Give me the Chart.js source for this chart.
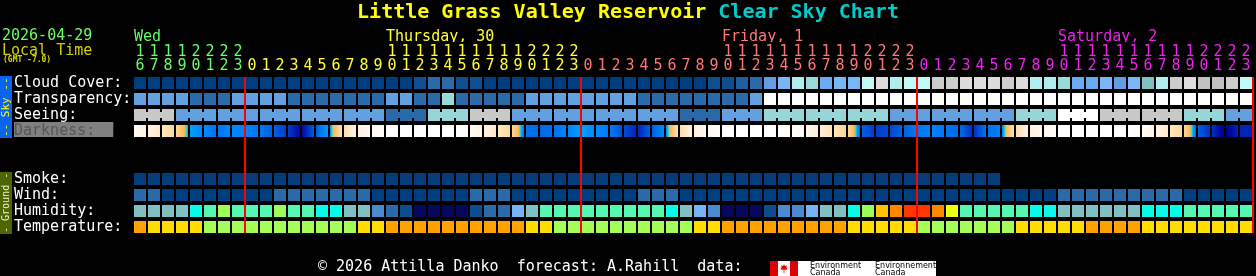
<!DOCTYPE html>
<html>
<head>
<meta charset="utf-8">
<title>Little Grass Valley Reservoir Clear Sky Chart</title>
<script src="https://cdn.jsdelivr.net/npm/chart.js"></script>
<style>
  body { margin: 0; background: #000; width: 1256px; height: 276px; overflow: hidden; position: relative; font-family: 'DejaVu Sans Mono', monospace; }
  #chart { position: absolute; left: 0; top: 0; }
  .txt { position: absolute; white-space: pre; }
  .side { position: absolute; left: 0; width: 12px; display: flex; align-items: center; justify-content: center;
          writing-mode: vertical-rl; transform: rotate(180deg); white-space: pre; line-height: 12px; }
  #ec { position: absolute; left: 770px; top: 261px; width: 166px; height: 15px; background: #fff; overflow: hidden; }
  #ec div { position: absolute; }
  #ec .t { font-family: 'DejaVu Sans', sans-serif; font-size: 8px; line-height: 7px; color: #000; top: 1px; }
</style>
</head>
<body>
<canvas id="chart" width="1256" height="276"></canvas>

<div class="txt" style="left:0;width:1256px;text-align:center;top:1px;font-size:20px;line-height:20px;font-weight:bold"><span style="color:#ffff00">Little Grass Valley Reservoir</span> <span style="color:#00cccc">Clear Sky Chart</span></div>
<div class="txt" style="left:2px;top:28px;font-size:15px;line-height:15px;color:#66ff66">2026-04-29</div>
<div class="txt" style="left:2px;top:43px;font-size:15px;line-height:15px;color:#d0d000">Local Time</div>
<div class="txt" style="left:3px;top:56px;font-size:8px;line-height:8px;font-weight:bold;color:#d8d800">(GMT -7.0)</div>

<div class="side" style="top:76px;height:62px;background:#0a64f0;color:#ffff00;font-size:11px">-- Sky --</div>
<div class="side" style="top:172px;height:62px;background:#4d6600;color:#f0f0d0;font-size:10px">- Ground -</div>

<div class="txt" style="left:318px;top:259px;font-size:15px;line-height:15px;color:#ffffff">© 2026 Attilla Danko  forecast: A.Rahill  data:</div>
<div id="ec">
  <div style="left:0;top:0;width:8px;height:15px;background:#e00000"></div>
  <div style="left:20px;top:0;width:8px;height:15px;background:#e00000"></div>
  <div style="left:10px;top:3px;width:8px;height:9px;background:#e00000;clip-path:polygon(50% 0,62% 25%,85% 15%,78% 45%,100% 40%,80% 65%,55% 62%,55% 100%,45% 100%,45% 62%,20% 65%,0 40%,22% 45%,15% 15%,38% 25%)"></div>
  <div class="t" style="left:40px">Environment<br>Canada</div>
  <div class="t" style="left:105px">Environnement<br>Canada</div>
</div>

<script>
// hour of each forecast column (local time)
const hours = [16,17,18,19,20,21,22,23,
  0,1,2,3,4,5,6,7,8,9,10,11,12,13,14,15,16,17,18,19,20,21,22,23,
  0,1,2,3,4,5,6,7,8,9,10,11,12,13,14,15,16,17,18,19,20,21,22,23,
  0,1,2,3,4,5,6,7,8,9,10,11,12,13,14,15,16,17,18,19,20,21,22,23];
const dayNames = ['Wed', 'Thursday, 30', 'Friday, 1', 'Saturday, 2'];
const dayColors = ['#66ff66', '#ffff33', '#ff7777', '#f020f0'];
const rowLabels = ['Cloud Cover:', 'Transparency:', 'Seeing:', 'Darkness:', '', '', 'Smoke:', 'Wind:', 'Humidity:', 'Temperature:'];

// cloud class per hour, 0 = clear ... 13 = heavy
const cloud = [0,0,0,0,0,0,0,0,
  0,0,0,0,0,0,0,0,0,0,0,0,1,3,3,1,1,0,0,0,0,0,0,0,
  0,0,0,0,0,0,0,0,0,1,1,2,3,4,6,9,8,5,6,6,10,13,9,10,
  10,12,12,13,13,13,12,13,9,9,8,5,5,6,4,6,7,9,12,13,11,11,12,10];
// 0 transparent .. 4 poor, 5 too cloudy
const transparency = [2,2,2,2,1,1,1,2,
  2,2,2,1,1,1,1,1,1,1,2,2,1,1,3,1,1,1,1,1,2,2,2,2,
  2,2,2,2,1,1,1,1,1,1,1,1,2,5,5,5,5,5,5,5,5,5,5,5,
  5,5,5,5,5,5,5,5,5,5,5,5,5,5,5,5,5,5,5,5,5,5,5,5];
// one value per 3 hour block: 0 too cloudy, 1 bad .. 5 excellent
const seeing = [1,3,3,3,3,3,4,2,1, 3,3,3,3,4,3,2,2,2, 3,3,3,2,0,1,1,2,3];
// sky brightness: -4 daylight, ~0 twilight, 2..6 moonlit to dark
const darkness = [-3.5,-2.5,-1.5,-0.3,2.0,3.0,3.6,3.0,
  3.2,3.5,4.0,4.6,5.5,4.1,2.5,-0.8,-2.5,-3.3,-4,-4,-4,-4,-4,-4,-3.5,-2.5,-1.5,-0.3,3.6,3.8,3.6,3.2,
  2.0,3.0,3.4,4.3,5.0,4.0,3.0,-0.8,-2.3,-3.3,-4,-4,-4,-4,-4,-3.6,-3.0,-2.0,-1.2,-0.3,4.0,4.6,4.4,4.0,
  3.5,3.2,3.5,3.8,4.8,3.6,3.2,-0.8,-2.3,-3.0,-3.8,-4,-4,-4,-4,-4,-3.6,-2.6,-1.5,-0.3,4.0,4.8,5.8,5.0];
// smoke ug/m3 (forecast ends earlier)
const smoke = [0,0,0,0,0,0,0,0,0,0,0,0,0,0,0,0,0,0,0,0,0,0,0,0,0,0,0,0,0,0,0,
  0,0,0,0,0,0,0,0,0,0,0,0,0,0,0,0,0,0,0,0,0,0,0,0,0,0,0,0,0,0,0];
// 0 = 0-5 mph, 1 = 6-11 mph
const wind = [1,1,0,0,0,0,0,0,
  0,0,1,1,1,1,1,1,1,0,0,0,0,0,0,0,1,1,1,0,0,0,0,0,
  0,0,0,0,1,1,1,0,0,0,0,0,0,0,0,0,0,0,0,0,0,0,0,0,
  0,0,0,0,0,0,0,0,0,0,1,1,1,1,1,1,1,1,1,0,0,0,0,0];
// relative humidity %
const humidity = [47,47,47,47,52,57,62,57,
  57,57,62,57,57,52,52,47,47,37,32,27,22,22,22,22,27,32,32,42,47,57,57,57,
  57,57,57,57,57,57,52,47,42,37,22,22,22,27,37,37,42,47,47,52,62,72,77,82,
  82,77,67,57,57,57,57,57,52,52,47,47,47,47,47,47,52,52,52,57,57,57,57,57];
// temperature F
const temperature = [54,46,46,46,46,37,37,37,
  37,37,37,37,37,37,37,37,46,46,54,54,54,54,54,54,54,54,54,54,46,46,37,37,
  37,37,37,37,37,37,37,37,46,46,54,54,54,54,54,54,54,54,54,46,46,46,46,46,
  37,37,37,37,37,37,37,46,46,46,46,46,54,54,54,54,46,46,46,46,46,46,46,46];

const cloudColors = ['#003f7f','#0f4f8f','#1f5f9f','#2b6aa8','#5f9fe0','#6aaaf0','#77b7f7','#80c0c0','#99d9d9','#b0eeee','#c0f8f8','#c0c0c0','#cccccc','#dcdcdc'];
const transColors = ['#003f7f','#2b6aa8','#63a0e0','#99d9d9','#c8c8c8','#ffffff'];
const seeingColors = ['#ffffff','#c8c8c8','#96d6d6','#63a0e0','#2b6aa8','#003f7f'];
const windColors = ['#003f7f','#2b6aa8'];
const smokeColor = '#053c7c';
const humBins = [25,30,35,40,45,50,55,60,65,70,75,80,85,90,95];
const humColors = ['#08065a','#0d4d8d','#2d6aa8','#4a8ad0','#74b4f4','#80c0c0','#08fae8','#55f8b0','#9efc58','#eaff12','#ffc400','#ff8800','#ff3600','#e00000','#b70000','#e10000'];
const tempBins = [5,14,23,32,41,50,59,68];
const tempColors = ['#e0e0ff','#b0b0ff','#6060ff','#00c0ff','#a2ff58','#ffdd00','#ffa200','#ff5500','#ff0000'];
const darkStops = [[-4,'#ffffff'],[-3,'#fff7ec'],[-2,'#ffeed6'],[-1,'#ffe0b4'],[0,'#ffcf88'],[1,'#ffb848'],[1.3,'#00e0f0'],
  [2,'#00a0ff'],[3,'#0088ff'],[3.5,'#0078f2'],[4,'#0060e0'],[4.5,'#0042d0'],[5,'#0024b8'],[5.5,'#0008a0'],[6,'#000070']];

function binColor(v, bins, colors) {
  let i = bins.findIndex(b => v < b);
  return colors[i < 0 ? colors.length - 1 : i];
}
function hex(c) { return [1, 3, 5].map(k => parseInt(c.substr(k, 2), 16)); }
function darkColor(v) {
  if (v <= darkStops[0][0]) return darkStops[0][1];
  for (let k = 1; k < darkStops.length; k++) {
    if (v <= darkStops[k][0]) {
      const a = darkStops[k - 1], b = darkStops[k];
      const t = (v - a[0]) / (b[0] - a[0]);
      const ca = hex(a[1]), cb = hex(b[1]);
      return 'rgb(' + ca.map((x, j) => Math.round(x + (cb[j] - x) * t)).join(',') + ')';
    }
  }
  return darkStops[darkStops.length - 1][1];
}
// squeeze the night part so sunset/sunrise shows as a narrow stripe
function toP(v) { return v <= 1.3 ? v : 1.3 + (v - 1.3) * 0.3; }
function fromP(p) { return p <= 1.3 ? p : 1.3 + (p - 1.3) / 0.3; }

// which day each column belongs to
const dayOf = [];
let d = 0;
hours.forEach((h, i) => { if (i > 0 && h === 0) d++; dayOf.push(d); });
const dayLabelCols = dayNames.map((n, k) => hours.findIndex((h, i) => dayOf[i] === k && h >= 10));
const midnights = [];
for (let i = 1; i <= hours.length; i++) if (hours[i - 1] === 23) midnights.push(i - 0.5);

const seeingCols = hours.map((h, i) => seeing[Math.floor(i / 3)]);
const seeingLinks = [];
for (let i = 0; i < hours.length - 1; i++) {
  if (Math.floor(i / 3) === Math.floor((i + 1) / 3)) seeingLinks.push(i);
}

function rowBars(row, values, colorOf) {
  return {
    data: values.map((v, i) => ({x: i, y: [row + 0.125, row + 0.875]})),
    backgroundColor: values.map(colorOf),
    barThickness: 12, grouped: false, inflateAmount: 0, borderWidth: 0
  };
}

const darkRow = rowBars(3, darkness, v => darkColor(v));
darkRow.backgroundColor = function (c) {
  const chart = c.chart, i = c.dataIndex;
  if (i === undefined || !chart.chartArea) return darkColor(darkness[0]);
  const x0 = chart.scales.x.getPixelForValue(i) - 6;
  const g = chart.ctx.createLinearGradient(x0, 0, x0 + 12, 0);
  const a = toP(darkness[i]), b = toP(darkness[Math.min(i + 1, darkness.length - 1)]);
  for (let k = 0; k <= 12; k++) {
    const t = k / 12;
    g.addColorStop(t, darkColor(fromP(a + (b - a) * t)));
  }
  return g;
};

const monoFont = "'DejaVu Sans Mono', monospace";

new Chart(document.getElementById('chart'), {
  type: 'bar',
  data: {
    datasets: [
      {
        data: midnights.map(x => ({x: x, y: [0.125, 9.875]})),
        backgroundColor: '#ff0000', barThickness: 2, grouped: false, inflateAmount: 0, clip: false
      },
      rowBars(0, cloud, v => cloudColors[v]),
      rowBars(1, transparency, v => transColors[v]),
      rowBars(2, seeingCols, v => seeingColors[v]),
      {
        data: seeingLinks.map(i => ({x: i + 0.5, y: [2.3125, 2.6875]})),
        backgroundColor: seeingLinks.map(i => seeingColors[seeingCols[i]]),
        barThickness: 2, grouped: false, inflateAmount: 0
      },
      darkRow,
      rowBars(6, smoke, v => smokeColor),
      rowBars(7, wind, v => windColors[v]),
      rowBars(8, humidity, v => binColor(v, humBins, humColors)),
      rowBars(9, temperature, v => binColor(v, tempBins, tempColors))
    ]
  },
  options: {
    responsive: false,
    animation: false,
    events: [],
    layout: { padding: { left: 14, right: 3, top: 25, bottom: 41 } },
    plugins: { legend: { display: false }, tooltip: { enabled: false } },
    scales: {
      x: {
        type: 'linear', position: 'top', min: -0.5, max: 79.5, offset: false, weight: 0,
        grid: { display: false, drawTicks: false }, border: { display: false },
        afterBuildTicks: s => { s.ticks = hours.map((h, i) => ({value: i})); },
        afterFit: s => { s.height = 33; },
        ticks: {
          autoSkip: false, maxRotation: 0, minRotation: 0, padding: 1.5,
          font: { family: monoFont, size: 15, lineHeight: '14px' },
          color: c => dayColors[dayOf[c.index] || 0],
          callback: (v, i) => {
            const h = hours[i];
            return h >= 10 ? [String(Math.floor(h / 10)), String(h % 10)] : ['', String(h)];
          }
        }
      },
      xd: {
        type: 'linear', position: 'top', min: -0.5, max: 79.5, offset: false, weight: 1,
        grid: { display: false, drawTicks: false }, border: { display: false },
        afterBuildTicks: s => { s.ticks = dayLabelCols.map(v => ({value: v})); },
        afterFit: s => { s.height = 17; },
        ticks: {
          autoSkip: false, maxRotation: 0, minRotation: 0, padding: -2, align: 'start', labelOffset: -6,
          font: { family: monoFont, size: 15, lineHeight: '14px' },
          color: c => dayColors[c.index] || '#fff',
          callback: (v, i) => dayNames[i]
        }
      },
      y: {
        type: 'linear', min: 0, max: 10, reverse: true,
        grid: { display: false, drawTicks: false }, border: { display: false },
        afterBuildTicks: s => { s.ticks = rowLabels.map((n, i) => ({value: i + 0.5})); },
        afterFit: s => { s.width = 119; },
        ticks: {
          autoSkip: false, padding: 0, crossAlign: 'far',
          font: { family: monoFont, size: 15, lineHeight: '15px' },
          color: c => rowLabels[c.index] === 'Darkness:' ? '#555555' : '#ffffff',
          showLabelBackdrop: c => rowLabels[c.index] === 'Darkness:',
          backdropColor: '#808080',
          backdropPadding: { top: 1.5, bottom: -1.5, left: 0, right: 18 },
          callback: (v, i) => rowLabels[i]
        }
      }
    }
  }
});
</script>
</body>
</html>
